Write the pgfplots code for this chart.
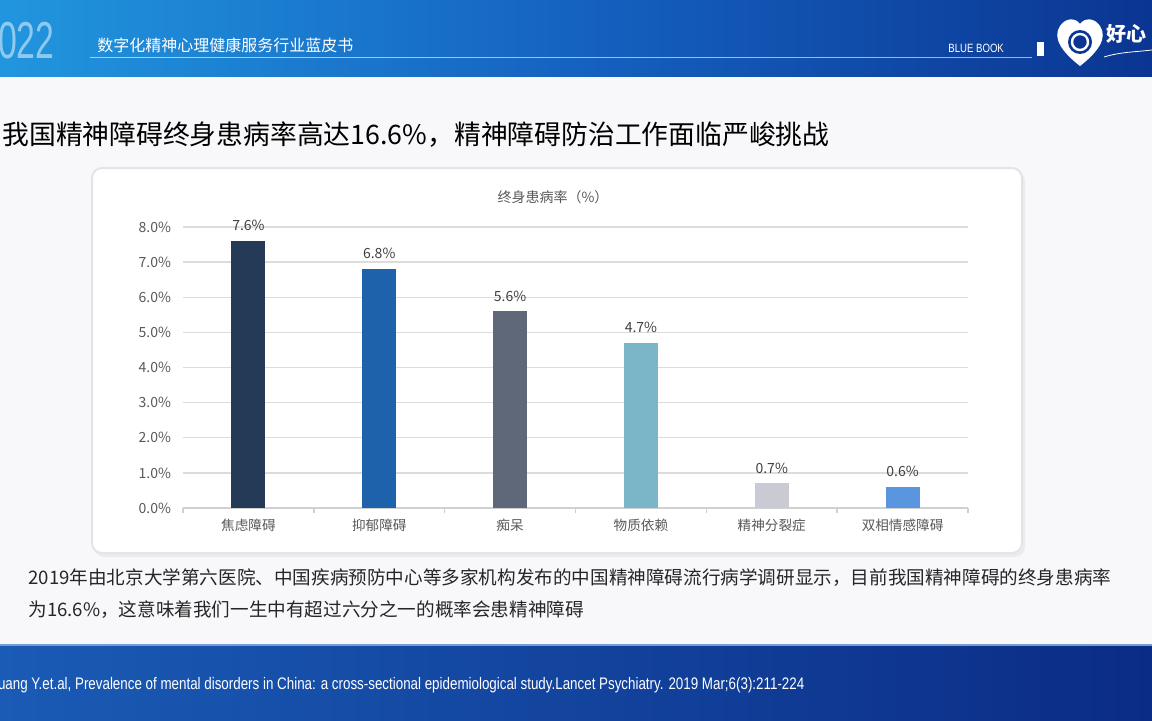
\documentclass[border=0pt]{standalone}
\usepackage{pgfplots}
\pgfplotsset{compat=1.18}
\usepackage{fontspec}
\setmainfont{Noto Sans CJK SC}
\newfontfamily\footfont[FakeStretch=0.8]{Liberation Sans}
\newfontfamily\bigdigits[FakeStretch=0.65]{Liberation Sans}
\definecolor{hdrL}{HTML}{2196DE}
\definecolor{hdrM}{HTML}{1562C0}
\definecolor{hdrR}{HTML}{0B3592}
\definecolor{ftL}{HTML}{1A5BB5}
\definecolor{ftR}{HTML}{0B2C86}
\definecolor{bodybg}{HTML}{F8F8FA}
\definecolor{panelborder}{HTML}{E3E4E8}
\definecolor{gridgray}{HTML}{DCDCDC}
\definecolor{axisgray}{HTML}{D0D0D0}
\definecolor{txtA}{HTML}{595959}
\definecolor{txtB}{HTML}{404040}
\definecolor{txtC}{HTML}{262626}
\definecolor{b1}{HTML}{243A56}
\definecolor{b2}{HTML}{1D62AA}
\definecolor{b3}{HTML}{5F6878}
\definecolor{b4}{HTML}{7AB5C8}
\definecolor{b5}{HTML}{C9CAD4}
\definecolor{b6}{HTML}{5A95DF}
\begin{document}
\begin{tikzpicture}
\useasboundingbox (0,0) rectangle (576pt,360pt);
\clip (0,0) rectangle (576pt,360pt);
\begin{scope}[shift={(0,360pt)},x=0.5pt,y=-0.5pt]
  % body background
  \fill[bodybg] (0,0) rectangle (1152,720);
  % header
  \shade[left color=hdrL, right color=hdrR, middle color=hdrM] (0,0) rectangle (1152,76);
  \node[anchor=base west, inner sep=0pt, font=\bigdigits\fontsize{26}{26}\selectfont, text=white, opacity=0.5] at (-21,58) {2022};
  \node[anchor=west, inner sep=0pt, font=\fontsize{8}{9}\selectfont, text=white] at (97,45) {数字化精神心理健康服务行业蓝皮书};
  \node[anchor=west, inner sep=0pt, font=\footfont\fontsize{6}{6}\selectfont, text=white] at (948,48) {BLUE BOOK};
  \draw[white, opacity=0.6, line width=0.5pt] (90,57) -- (1032,57);
  \fill[white] (1037,42) rectangle (1044,56);
  % logo
  \fill[white] (1080,66) .. controls (1062,52) and (1052,38) .. (1060,26) .. controls (1066,17) and (1076,18) .. (1080,24) .. controls (1084,18) and (1094,17) .. (1100,26) .. controls (1108,38) and (1098,52) .. (1080,66) -- cycle;
  \fill[hdrR] (1080,42) circle (12);
  \draw[white, line width=1.2pt] (1080,42) circle (8);
  \fill[hdrR] (1084,38) circle (1.5);
  \node[anchor=west, inner sep=0pt, font=\bfseries\fontsize{10}{10}\selectfont, text=white] at (1106,34) {好心};
  \draw[white, line width=0.4pt] (1104,57) .. controls (1120,52) and (1135,52) .. (1152,50);
  % title
  \node[anchor=west, inner sep=0pt, font=\fontsize{13.4}{14}\selectfont, text=black] at (2,135) {我国精神障碍终身患病率高达16.6\%，精神障碍防治工作面临严峻挑战};
  % chart panel
  \fill[black, opacity=0.05, rounded corners=5pt] (94,171) rectangle (1025,557);
  \filldraw[fill=white, draw=panelborder, line width=1pt, rounded corners=5pt] (92,168) rectangle (1022,553);
  \node[font=\fontsize{7}{8}\selectfont, text=txtA] at (553,197) {终身患病率（\%）};
  % paragraph
  \node[anchor=west, inner sep=0pt, font=\fontsize{9.3}{10}\selectfont, text=txtC] at (28,578) {2019年由北京大学第六医院、中国疾病预防中心等多家机构发布的中国精神障碍流行病学调研显示，目前我国精神障碍的终身患病率};
  \node[anchor=west, inner sep=0pt, font=\fontsize{9.3}{10}\selectfont, text=txtC] at (28,610) {为16.6\%，这意味着我们一生中有超过六分之一的概率会患精神障碍};
  % footer
  \shade[left color=ftL, right color=ftR] (0,645) rectangle (1152,720);
  \draw[color=ftL!60!white, line width=0.6pt] (0,645) -- (1152,645);
  \node[anchor=west, inner sep=0pt, text=white] at (-12,685) {\resizebox{408pt}{!}{\footfont\fontsize{7}{7}\selectfont Huang Y.et.al, Prevalence of mental disorders in China: a cross-sectional epidemiological study.Lancet Psychiatry. 2019 Mar;6(3):211-224}};
\end{scope}
\begin{axis}[
  at={(91.5pt,106pt)}, anchor=south west,
  scale only axis, width=392.5pt, height=140.5pt,
  xmin=-0.5, xmax=5.5, ymin=0, ymax=8,
  /pgf/number format/assume math mode=true,
  axis lines*=left,
  y axis line style={draw=none},
  x axis line style={draw=axisgray, line width=0.7pt, -},
  ytick={0,1,...,8},
  yticklabels={0.0\%,1.0\%,2.0\%,3.0\%,4.0\%,5.0\%,6.0\%,7.0\%,8.0\%},
  xtick={0,...,5},
  xticklabels={焦虑障碍,抑郁障碍,痴呆,物质依赖,精神分裂症,双相情感障碍},
  minor xtick={-0.5,0.5,1.5,2.5,3.5,4.5,5.5},
  major tick length=0pt, minor tick length=2.5pt, tick align=outside,
  minor tick style={draw=axisgray, line width=0.7pt},
  ytick style={draw=none},
  ymajorgrids, major grid style={draw=gridgray, line width=0.7pt},
  yticklabel style={font=\fontsize{7}{8}\selectfont, text=txtA, xshift=-2.5pt},
  xticklabel style={font=\fontsize{6.8}{8}\selectfont, text=txtA, yshift=-2pt},
  ybar, bar width=17pt,
  nodes near coords={\pgfmathprintnumber[fixed,fixed zerofill,precision=1,assume math mode=true]{\pgfplotspointmeta}\%},
  nodes near coords style={font=\fontsize{7}{8}\selectfont, text=txtB, yshift=1.5pt},
  clip=false,
]
\addplot[fill=b1, draw=none, bar shift=0pt] coordinates {(0,7.6)};
\addplot[fill=b2, draw=none, bar shift=0pt] coordinates {(1,6.8)};
\addplot[fill=b3, draw=none, bar shift=0pt] coordinates {(2,5.6)};
\addplot[fill=b4, draw=none, bar shift=0pt] coordinates {(3,4.7)};
\addplot[fill=b5, draw=none, bar shift=0pt] coordinates {(4,0.7)};
\addplot[fill=b6, draw=none, bar shift=0pt] coordinates {(5,0.6)};
\end{axis}
\end{tikzpicture}
\end{document}
